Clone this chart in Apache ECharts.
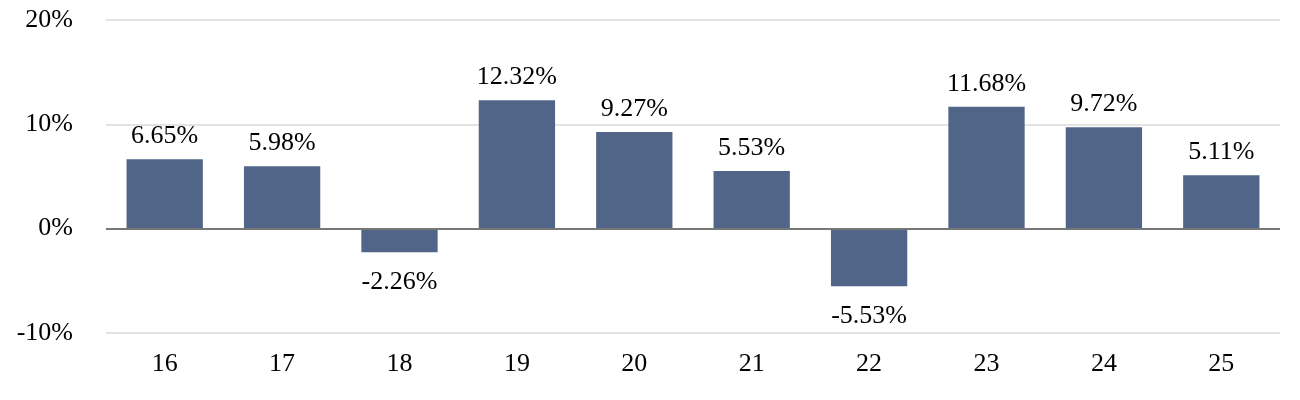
<!DOCTYPE html>
<html>
<head>
    <meta charset="utf-8">
    <title>bar</title>
    <script src="https://cdn.jsdelivr.net/npm/echarts@6/dist/echarts.min.js"></script>
    <style>
        html, body { margin: 0; padding: 0; background: #fff; }
        #chart1 { width: 1300px; height: 400px; }
    </style>
</head>
<body>
<div id="chart1"></div>
<script type="text/javascript">
    // 数据
    var categories = ['16', '17', '18', '19', '20', '21', '22', '23', '24', '25'];
    var values = [6.65, 5.98, -2.26, 12.32, 9.27, 5.53, -5.53, 11.68, 9.72, 5.11];

    var myChart1 = echarts.init(document.getElementById('chart1'));

    // 负值标签放在柱子下方
    var barData = values.map(function (v) {
        return {
            value: v,
            label: v < 0 ? { position: 'bottom', distance: 17 } : { position: 'top', distance: 10 }
        };
    });

    var font = '"Liberation Serif", "Times New Roman", serif';

    myChart1.setOption({
        animation: false,
        grid: { left: 106, right: 20, top: 20, bottom: 67 },
        xAxis: {
            type: 'category',
            data: categories,
            axisLine: { show: false },
            axisTick: { show: false },
            axisLabel: { color: '#000', fontFamily: font, fontSize: 26, margin: 18 }
        },
        yAxis: {
            type: 'value',
            min: -10,
            max: 20,
            interval: 10,
            axisLine: { show: false },
            axisTick: { show: false },
            axisLabel: { color: '#000', fontFamily: font, fontSize: 26, margin: 33, formatter: '{value}%' },
            splitLine: { lineStyle: { color: '#e3e3e3', width: 2 } }
        },
        series: [{
            type: 'bar',
            data: barData,
            barWidth: '65%',
            itemStyle: { color: '#516589' },
            label: {
                show: true,
                color: '#000',
                fontFamily: font,
                fontSize: 26,
                formatter: function (p) { return p.value.toFixed(2) + '%'; }
            },
            markLine: {
                silent: true,
                symbol: 'none',
                label: { show: false },
                lineStyle: { color: '#777777', width: 2, type: 'solid' },
                data: [{ yAxis: 0 }]
            }
        }]
    });
</script>
</body>
</html>
